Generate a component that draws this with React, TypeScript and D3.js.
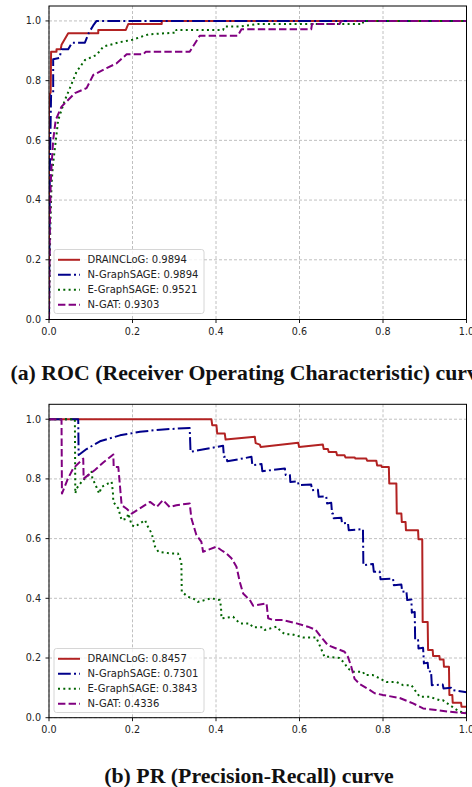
import React from "react";
import * as d3 from "d3";

type Pt = [number, number];

// ---------- Data ----------
const seriesNames = ["DRAINCLoG", "N-GraphSAGE", "E-GraphSAGE", "N-GAT"];
const rocAuc = ["0.9894", "0.9894", "0.9521", "0.9303"];
const prAuc = ["0.8457", "0.7301", "0.3843", "0.4336"];
const xTicks = [0, 0.2, 0.4, 0.6, 0.8, 1.0];
const yTicks = [0, 0.2, 0.4, 0.6, 0.8, 1.0];
const captionA = "(a) ROC (Receiver Operating Characteristic) curve";
const captionB = "(b) PR (Precision-Recall) curve";

// ROC: [FPR, TPR]
const rocDrain: Pt[] = [
  [0, 0], [0, 0.75], [0.004, 0.76], [0.005, 0.897], [0.018, 0.897], [0.018, 0.905],
  [0.028, 0.905], [0.03, 0.92], [0.046, 0.959], [0.118, 0.959], [0.118, 0.97],
  [0.184, 0.97], [0.19, 0.99], [0.27, 0.99], [0.27, 1.0], [1, 1],
];
const rocNSage: Pt[] = [
  [0, 0], [0.002, 0.5], [0.005, 0.752], [0.01, 0.76], [0.01, 0.872], [0.025, 0.876],
  [0.03, 0.905], [0.046, 0.905], [0.055, 0.927], [0.086, 0.927], [0.095, 0.959],
  [0.106, 0.985], [0.114, 1.0], [1, 1],
];
const rocESage: Pt[] = [
  [0, 0], [0.003, 0.3], [0.006, 0.45], [0.009, 0.512], [0.022, 0.668], [0.038, 0.735],
  [0.05, 0.775], [0.066, 0.83], [0.086, 0.869], [0.114, 0.886], [0.13, 0.914],
  [0.17, 0.929], [0.2, 0.937], [0.238, 0.955], [0.305, 0.961], [0.305, 0.97],
  [0.417, 0.97], [0.42, 0.981], [0.457, 0.981], [0.5, 0.99], [0.752, 0.99],
  [0.752, 1.0], [1, 1],
];
const rocNGat: Pt[] = [
  [0, 0], [0.002, 0.3], [0.004, 0.45], [0.006, 0.512], [0.01, 0.601], [0.016, 0.668],
  [0.03, 0.713], [0.042, 0.73], [0.062, 0.758], [0.09, 0.775], [0.106, 0.819],
  [0.138, 0.842], [0.162, 0.858], [0.186, 0.888], [0.226, 0.888], [0.232, 0.897],
  [0.337, 0.897], [0.361, 0.95], [0.452, 0.95], [0.461, 0.972], [0.628, 0.972],
  [0.63, 0.99], [0.696, 0.99], [0.7, 1.0], [1, 1],
];

// PR: [recall, precision]
const prDrain: Pt[] = [
  [0, 1], [0.389, 1], [0.391, 0.98], [0.401, 0.98], [0.403, 0.952], [0.421, 0.952],
  [0.423, 0.932], [0.493, 0.941], [0.495, 0.92], [0.505, 0.915], [0.507, 0.907],
  [0.597, 0.921], [0.599, 0.907], [0.656, 0.915], [0.658, 0.9], [0.668, 0.9],
  [0.67, 0.89], [0.688, 0.89], [0.69, 0.879], [0.708, 0.879], [0.71, 0.872],
  [0.732, 0.872], [0.734, 0.868], [0.76, 0.868], [0.762, 0.861], [0.784, 0.861],
  [0.786, 0.845], [0.796, 0.845], [0.797, 0.84], [0.814, 0.84], [0.815, 0.785],
  [0.832, 0.785], [0.833, 0.684], [0.844, 0.684], [0.845, 0.656], [0.854, 0.656],
  [0.855, 0.628], [0.884, 0.628], [0.885, 0.598], [0.894, 0.598], [0.895, 0.321],
  [0.907, 0.321], [0.908, 0.227], [0.919, 0.227], [0.92, 0.207], [0.935, 0.207],
  [0.936, 0.195], [0.945, 0.195], [0.946, 0.171], [0.958, 0.171], [0.959, 0.076],
  [0.966, 0.076], [0.967, 0.05], [0.987, 0.05], [0.988, 0.037], [1.0, 0.037],
];
const prNSage: Pt[] = [
  [0, 1], [0.07, 1], [0.071, 0.88], [0.09, 0.9], [0.122, 0.926], [0.17, 0.946],
  [0.218, 0.958], [0.266, 0.965], [0.337, 0.971], [0.339, 0.891], [0.417, 0.911],
  [0.419, 0.874], [0.425, 0.874], [0.427, 0.859], [0.485, 0.874], [0.487, 0.846],
  [0.509, 0.85], [0.511, 0.826], [0.565, 0.835], [0.567, 0.813], [0.577, 0.813],
  [0.578, 0.79], [0.596, 0.792], [0.598, 0.779], [0.628, 0.781], [0.63, 0.762],
  [0.644, 0.764], [0.646, 0.74], [0.664, 0.742], [0.666, 0.718], [0.676, 0.72],
  [0.678, 0.684], [0.68, 0.684], [0.682, 0.668], [0.7, 0.67], [0.702, 0.651],
  [0.716, 0.653], [0.718, 0.628], [0.752, 0.632], [0.753, 0.511], [0.776, 0.515],
  [0.778, 0.489], [0.792, 0.49], [0.794, 0.464], [0.824, 0.466], [0.826, 0.444],
  [0.844, 0.446], [0.846, 0.422], [0.856, 0.424], [0.858, 0.394], [0.868, 0.396],
  [0.869, 0.352], [0.876, 0.354], [0.877, 0.26], [0.884, 0.26], [0.885, 0.232],
  [0.896, 0.234], [0.898, 0.182], [0.907, 0.184], [0.909, 0.154], [0.915, 0.156],
  [0.917, 0.109], [0.943, 0.111], [0.945, 0.098], [0.963, 0.1], [0.965, 0.093],
  [1.0, 0.085],
];
const prESage: Pt[] = [
  [0, 1], [0.062, 1], [0.063, 0.751], [0.066, 0.768], [0.078, 0.79], [0.102, 0.824],
  [0.104, 0.8], [0.11, 0.785], [0.12, 0.751], [0.126, 0.773], [0.142, 0.785],
  [0.15, 0.79], [0.153, 0.757], [0.154, 0.723], [0.166, 0.701], [0.174, 0.662],
  [0.186, 0.667], [0.19, 0.684], [0.198, 0.645], [0.206, 0.64], [0.23, 0.662],
  [0.235, 0.645], [0.246, 0.617], [0.254, 0.573], [0.262, 0.556], [0.294, 0.55],
  [0.309, 0.55], [0.317, 0.522], [0.318, 0.422], [0.333, 0.405], [0.345, 0.4],
  [0.357, 0.388], [0.389, 0.4], [0.409, 0.394], [0.412, 0.372], [0.413, 0.333],
  [0.441, 0.338], [0.457, 0.316], [0.481, 0.316], [0.488, 0.303], [0.512, 0.303],
  [0.517, 0.294], [0.545, 0.305], [0.555, 0.29], [0.565, 0.28], [0.581, 0.28],
  [0.608, 0.269], [0.64, 0.269], [0.648, 0.243], [0.66, 0.204], [0.672, 0.204],
  [0.696, 0.2], [0.708, 0.182], [0.716, 0.165], [0.728, 0.154], [0.752, 0.154],
  [0.756, 0.143], [0.775, 0.143], [0.792, 0.132], [0.808, 0.12], [0.832, 0.12],
  [0.848, 0.109], [0.868, 0.109], [0.876, 0.093], [0.888, 0.07], [0.911, 0.07],
  [0.935, 0.059], [0.943, 0.059], [0.959, 0.043], [0.983, 0.02], [1.0, 0.017],
];
const prNGat: Pt[] = [
  [0, 1], [0.03, 1], [0.031, 0.751], [0.045, 0.8], [0.058, 0.835], [0.082, 0.868],
  [0.083, 0.801], [0.11, 0.83], [0.13, 0.855], [0.154, 0.882], [0.155, 0.84],
  [0.166, 0.84], [0.174, 0.712], [0.186, 0.7], [0.198, 0.684], [0.242, 0.723],
  [0.258, 0.706], [0.273, 0.729], [0.289, 0.706], [0.305, 0.712], [0.337, 0.718],
  [0.341, 0.668], [0.353, 0.612], [0.365, 0.589], [0.369, 0.556], [0.401, 0.573],
  [0.413, 0.561], [0.425, 0.55], [0.437, 0.534], [0.449, 0.506], [0.457, 0.455],
  [0.465, 0.416], [0.481, 0.394], [0.489, 0.375], [0.521, 0.383], [0.525, 0.333],
  [0.537, 0.327], [0.561, 0.327], [0.593, 0.316], [0.62, 0.305], [0.638, 0.295],
  [0.656, 0.263], [0.668, 0.243], [0.688, 0.232], [0.708, 0.221], [0.716, 0.204],
  [0.724, 0.171], [0.732, 0.13], [0.745, 0.112], [0.768, 0.093], [0.78, 0.082],
  [0.8, 0.076], [0.84, 0.066], [0.872, 0.048], [0.896, 0.031], [0.927, 0.026],
  [0.959, 0.02], [1.0, 0.015],
];

const rocSeries = [rocDrain, rocNSage, rocESage, rocNGat];
const prSeries = [prDrain, prNSage, prESage, prNGat];

// ---------- Styles ----------
const colors = ["#b22222", "#00008b", "#006400", "#800080"];
const dashes = ["none", "12.8,3.2,2,3.2", "2,3.3", "7.4,3.2"];
const LW = 2;

const W = 472;
const H = 787;
const X0 = 49;
const X1 = 466.5;

const tickFont = "'DejaVu Sans', sans-serif";

function Panel({
  id, top, bottom, series, aucs, legendTop,
}: {
  id: string; top: number; bottom: number; series: Pt[][]; aucs: string[]; legendTop: number;
}) {
  const x = d3.scaleLinear().domain([0, 1]).range([X0, X1]);
  const y = d3.scaleLinear().domain([0, 1.05]).range([bottom, top]);
  const line = d3.line<Pt>().x((d) => x(d[0])).y((d) => y(d[1]));
  return (
    <g>
      <defs>
        <clipPath id={id}>
          <rect x={X0} y={top} width={X1 - X0} height={bottom - top} />
        </clipPath>
      </defs>
      {/* grid */}
      {xTicks.map((t) => (
        <line key={"gx" + t} x1={x(t)} x2={x(t)} y1={top} y2={bottom}
          stroke="#b0b0b0" strokeWidth={0.8} strokeDasharray="3,2" />
      ))}
      {yTicks.map((t) => (
        <line key={"gy" + t} x1={X0} x2={X1} y1={y(t)} y2={y(t)}
          stroke="#b0b0b0" strokeWidth={0.8} strokeDasharray="3,2" />
      ))}
      {/* lines */}
      <g clipPath={`url(#${id})`}>
        {series.map((s, i) => (
          <path key={i} d={line(s) || ""} fill="none" stroke={colors[i]}
            strokeWidth={LW} strokeDasharray={dashes[i]} strokeLinejoin="round" />
        ))}
      </g>
      {/* spines */}
      <rect x={X0} y={top} width={X1 - X0} height={bottom - top} fill="none"
        stroke="#000" strokeWidth={1} />
      {/* ticks */}
      {xTicks.map((t) => (
        <g key={"tx" + t}>
          <line x1={x(t)} x2={x(t)} y1={bottom} y2={bottom + 3.5} stroke="#000" strokeWidth={0.9} />
          <text x={x(t)} y={bottom + 15.5} textAnchor="middle" fontFamily={tickFont}
            fontSize={9.6} fill="#222">{t.toFixed(1)}</text>
        </g>
      ))}
      {yTicks.map((t) => (
        <g key={"ty" + t}>
          <line x1={X0 - 3.5} x2={X0} y1={y(t)} y2={y(t)} stroke="#000" strokeWidth={0.9} />
          <text x={41} y={y(t)} dy="0.35em" textAnchor="end" fontFamily={tickFont}
            fontSize={9.6} fill="#222">{t.toFixed(1)}</text>
        </g>
      ))}
      {/* legend */}
      <rect x={54} y={legendTop} width={150} height={64} rx={2.5} fill="#fff"
        fillOpacity={0.8} stroke="#ccc" strokeWidth={0.8} />
      {seriesNames.map((n, i) => {
        const ry = legendTop + 10.3 + i * 15;
        return (
          <g key={"lg" + i}>
            <line x1={58} x2={80} y1={ry} y2={ry} stroke={colors[i]} strokeWidth={LW}
              strokeDasharray={dashes[i]} />
            <text x={87.5} y={ry} dy="0.35em" fontFamily={tickFont} fontSize={10}
              fill="#222">{`${n}: ${aucs[i]}`}</text>
          </g>
        );
      })}
    </g>
  );
}

export default function App() {
  return (
    <div style={{ position: "absolute", left: 0, top: 0, width: W, height: H, overflow: "hidden", background: "#fff" }}>
      <svg width={W} height={H} viewBox={`0 0 ${W} ${H}`} style={{ display: "block" }}>
        <rect width={W} height={H} fill="#fff" />
        <Panel id="clipA" top={6} bottom={319.5} series={rocSeries} aucs={rocAuc} legendTop={249.5} />
        <Panel id="clipB" top={404.3} bottom={717.7} series={prSeries} aucs={prAuc} legendTop={648.5} />
        <text x={249} y={380} textAnchor="middle" fontFamily="'Liberation Serif', serif"
          fontWeight="bold" fontSize={21.8} fill="#111">{captionA}</text>
        <text x={249} y={783} textAnchor="middle" fontFamily="'Liberation Serif', serif"
          fontWeight="bold" fontSize={21.8} fill="#111">{captionB}</text>
      </svg>
    </div>
  );
}
